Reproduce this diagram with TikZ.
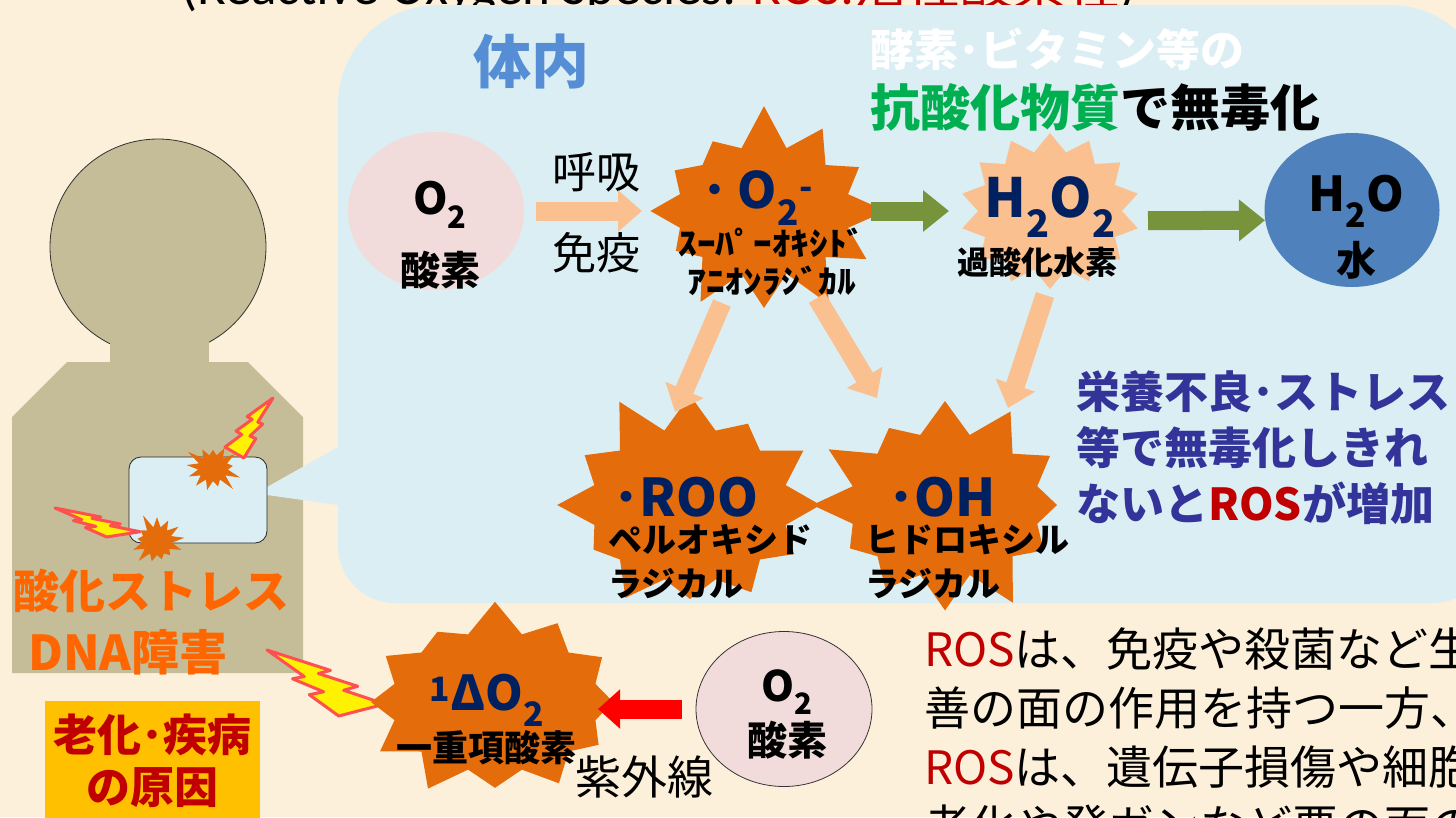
\documentclass[tikz,border=0pt]{standalone}
\usepackage{fontspec}
\setmainfont{Noto Sans CJK JP}
\newfontfamily\latinfont{Carlito}
\usetikzlibrary{positioning,arrows.meta,shapes.symbols,shapes.geometric}

\definecolor{parchment}{HTML}{FCF0DA}
\definecolor{innerblue}{HTML}{DAEEF3}
\definecolor{tan}{HTML}{C4BD97}
\definecolor{rosorange}{HTML}{E46C0A}
\definecolor{peach}{HTML}{FAC090}
\definecolor{leafgreen}{HTML}{77933C}
\definecolor{pinkish}{HTML}{F2DCDB}
\definecolor{waterblue}{HTML}{4F81BD}
\definecolor{navy}{HTML}{002060}
\definecolor{stress}{HTML}{FF6600}
\definecolor{rosred}{HTML}{C00000}
\definecolor{gold}{HTML}{FFC000}
\definecolor{warnblue}{HTML}{333399}
\definecolor{antigreen}{HTML}{00B050}
\definecolor{naiblue}{HTML}{558ED5}
\definecolor{boltred}{HTML}{FF5050}

\newcommand\fsz[2]{\fontsize{#1}{#2}\selectfont}
\newcommand\wide[1]{\scalebox{1.17}[1]{#1}}

\begin{document}
\begin{tikzpicture}[x=1pt,y=-1pt,
    tag/.style={inner sep=0pt, align=center},
    hot/.style={starburst, fill=rosorange, inner sep=0pt},
    mild/.style={starburst, fill=peach, inner sep=0pt, random starburst=0},
    pinkball/.style={ellipse, fill=pinkish, inner sep=0pt},
    softarrow/.style={draw=peach, line width=19pt, -{Triangle[length=24pt,width=40pt]}},
    greenarrow/.style={draw=leafgreen, line width=19pt, -{Triangle[length=26pt,width=40pt]}},
    redarrow/.style={draw=red, line width=19pt, -{Triangle[length=22pt,width=38pt]}},
    zap/.pic={\filldraw[fill=yellow, draw=boltred, line width=3pt, line join=round]
      (0.392,0) -- (0,0.182) -- (0.350,0.390) -- (0.231,0.450) -- (0.565,0.644)
      -- (0.462,0.691) -- (1,1) -- (0.684,0.598) -- (0.784,0.564) -- (0.520,0.367)
      -- (0.642,0.323) -- cycle;}
  ]
  \useasboundingbox (0,0) rectangle (1456,817);
  \fill[parchment] (0,0) rectangle (1456,817);

  % heading, mostly above the page
  \node[tag, anchor=base west, font=\fsz{53}{56}] (caption) at (181,4)
    {{\latinfont (Reactive Oxygen Species: }{\color{rosred}\latinfont ROS:}{\color{rosred}活性酸素種}{\latinfont )}};

  % inside the body panel
  \fill[innerblue, rounded corners=100] (338,5) rectangle (1490,480);
  \fill[innerblue, rounded corners=57] (338,200) rectangle (1490,603);

  % person
  \fill[tan] (12,673) -- (12,417) -- (67,362) -- (248,362) -- (303,417) -- (303,673) -- cycle;
  \node[circle, fill=tan, draw=black!80, line width=0.8pt, minimum size=216pt, inner sep=0pt] (head) at (158,247) {};
  \fill[tan] (110,328) rectangle (209,364);
  \fill[innerblue] (267,487) -- (338,447) -- (338,505) -- (267,495) -- cycle;
  \node[draw=black!85, line width=0.8pt, fill=innerblue, rounded corners=12pt,
        minimum width=138pt, minimum height=86pt, inner sep=0pt] (chest) at (198,500) {};

  % sparks hitting the cell
  \pic[xscale=48, yscale=-60] at (225,458) {zap};
  \pic[xscale=-85, yscale=-29] at (140,537) {zap};
  \pic[xscale=-118, yscale=-66] at (385,716) {zap};
  \node[hot, minimum width=62pt, minimum height=58pt, starburst points=13, starburst point height=16pt, random starburst=3] (hit1) at (213,468) {};
  \node[hot, minimum width=62pt, minimum height=60pt, starburst points=13, starburst point height=16pt, random starburst=5] (hit2) at (157,541) {};

  \node[tag, text=stress, font=\bfseries\fsz{46}{50}] (stress) at (151,591) {酸化ストレス};
  \node[tag, text=stress, font=\bfseries\fsz{48}{50}] (dna) at (128,652) {DNA障害};
  \node[fill=gold, text=rosred, minimum width=215pt, minimum height=120pt, inner sep=0pt, align=center,
        font=\bfseries\fsz{44}{52}] (cause) at (152,761) {老化･疾病\\の原因};

  % ROS chain
  \node[tag, text=naiblue, font=\bfseries\fsz{58}{60}] (tainai) at (531,62) {体内};
  \node[tag, anchor=west, text=white, font=\bfseries\fsz{44}{50}] (enzyme) at (870,49) {酵素･ビタミン等の};
  \node[tag, anchor=west, font=\bfseries\fsz{50}{54}] (antiox) at (870,107) {{\color{antigreen}抗酸化物質}で無毒化};

  \node[pinkball, minimum width=176pt, minimum height=158pt] (o2) at (436,211) {};
  \node[tag, font=\bfseries\fsz{44}{71}] (o2lbl) at (440,235) {O\textsubscript{2}\\{\fsz{40}{71}酸素}};
  \node[tag, font=\fsz{44}{50}] (breath) at (596,172) {呼吸};
  \node[tag, font=\fsz{44}{50}] (immune) at (596,253) {免疫};

  \node[hot, minimum width=262pt, minimum height=218pt, starburst points=12, starburst point height=44pt, random starburst=7] (sup) at (764,211) {};
  \node[tag, text=navy, font=\bfseries\fsz{50}{54}] (suplbl) at (758,198) {･\hspace{10pt}O\textsubscript{2}\textsuperscript{-}};
  \node[tag, font=\bfseries\fsz{32}{38}] (supname) at (772,262) {\wide{ｽｰﾊﾟｰｵｷｼﾄﾞ}\\\wide{ｱﾆｵﾝﾗｼﾞｶﾙ}};

  \node[mild, minimum width=180pt, minimum height=156pt, starburst points=14, starburst point height=18pt] (h2o2) at (1050,211) {};
  \node[tag, text=navy, font=\bfseries\fsz{54}{56}] (h2o2lbl) at (1050,207) {H\textsubscript{2}O\textsubscript{2}};
  \node[tag, font=\bfseries\fsz{32}{36}] (h2o2name) at (1037,262) {過酸化水素};

  \node[ellipse, fill=waterblue, minimum width=175pt, minimum height=154pt, inner sep=0pt] (h2o) at (1352,210) {};
  \node[tag, font=\bfseries\fsz{48}{64}] (h2olbl) at (1356,227) {H\textsubscript{2}O\\{\fsz{40}{64}水}};

  \node[hot, minimum width=286pt, minimum height=242pt, starburst points=12, starburst point height=44pt, random starburst=11] (roo) at (690,505) {};
  \node[tag, text=navy, font=\bfseries\fsz{52}{56}] (roolbl) at (686,497) {･ROO};
  \node[tag, anchor=west, align=left, font=\bfseries\fsz{34}{44}] (rooname) at (608,562) {ペルオキシド\\ラジカル};

  \node[hot, minimum width=279pt, minimum height=233pt, starburst points=12, starburst point height=44pt, random starburst=21] (oh) at (945,505) {};
  \node[tag, text=navy, font=\bfseries\fsz{52}{56}] (ohlbl) at (942,497) {･OH};
  \node[tag, anchor=west, align=left, font=\bfseries\fsz{34}{44}] (ohname) at (865,562) {ヒドロキシル\\ラジカル};

  \node[tag, anchor=west, align=left, text=warnblue, font=\bfseries\fsz{44}{56}] (warn) at (1076,448)
    {栄養不良･ストレス\\等で無毒化しきれ\\ないと{\color{rosred}ROS}が増加};

  % singlet oxygen from UV
  \node[hot, minimum width=296pt, minimum height=228pt, starburst points=12, starburst point height=44pt, random starburst=31] (singlet) at (495,702) {};
  \node[tag, text=navy, font=\bfseries\fsz{48}{52}] (singletlbl) at (487,700) {\textsuperscript{1}ΔO\textsubscript{2}};
  \node[tag, font=\bfseries\fsz{36}{40}] (singletname) at (486,748) {一重項酸素};
  \node[pinkball, draw=black!80, line width=0.8pt, minimum width=176pt, minimum height=155pt] (o2b) at (784,709) {};
  \node[tag, font=\bfseries\fsz{42}{54}] (o2blbl) at (787,714) {O\textsubscript{2}\\{\fsz{40}{54}酸素}};
  \node[tag, font=\fsz{46}{50}] (uv) at (644,777) {紫外線};

  \node[tag, anchor=west, align=left, font=\fsz{46}{59}] (note) at (924,738)
    {{\color{rosred}ROS}は、免疫や殺菌など生\\善の面の作用を持つ一方、\\{\color{rosred}ROS}は、遺伝子損傷や細胞\\老化や発ガンなど悪の面の};

  % arrows
  \draw[softarrow, shorten <=100pt, shorten >=122pt] (o2.center) -- (sup.center);
  \draw[greenarrow, shorten <=107pt, shorten >=101pt] (sup.center) -- (h2o2.center);
  \draw[greenarrow, shorten <=98pt, shorten >=87pt, transform canvas={yshift=-10pt}] (h2o2.center) -- (h2o.center);
  \draw[softarrow] ([shift={(-42,92)}]sup.center) -- ([shift={(-15,-93)}]roo.center);
  \draw[softarrow] ([shift={(53,87)}]sup.center) -- ([shift={(-68,-107)}]oh.center);
  \draw[softarrow] ([shift={(-5,84)}]h2o2.center) -- ([shift={(63,-97)}]oh.center);
  \draw[redarrow, shorten <=14pt, shorten >=103pt] (o2b.west) -- (o2b.west -| singlet.center);
\end{tikzpicture}
\end{document}
